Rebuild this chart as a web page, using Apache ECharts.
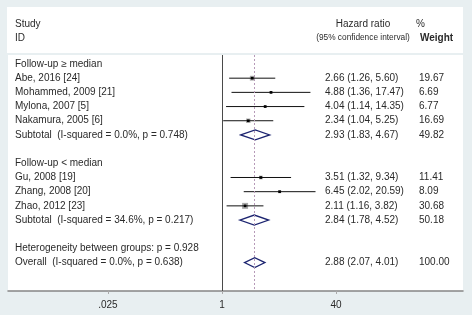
<!DOCTYPE html>
<html>
<head>
<meta charset="utf-8">
<script src="https://cdn.jsdelivr.net/npm/echarts@6/dist/echarts.min.js"></script>
<style>html,body{margin:0;padding:0;background:#e8eff1;}#c{width:472px;height:315px;}</style>
</head>
<body>
<div id="c"></div>
<script>
// ---- data ----
const rowLabels = [
  "Follow-up \u2265 median",
  "Abe, 2016 [24]",
  "Mohammed, 2009 [21]",
  "Mylona, 2007 [5]",
  "Nakamura, 2005 [6]",
  "Subtotal  (I-squared = 0.0%, p = 0.748)",
  "",
  "Follow-up < median",
  "Gu, 2008 [19]",
  "Zhang, 2008 [20]",
  "Zhao, 2012 [23]",
  "Subtotal  (I-squared = 34.6%, p = 0.217)",
  "",
  "Heterogeneity between groups: p = 0.928",
  "Overall  (I-squared = 0.0%, p = 0.638)"
];
const rowKind = ["head","study","study","study","study","pooled","blank","head","study","study","study","pooled","blank","note","pooled"];
const hr      = [null, 2.66, 4.88, 4.04, 2.34, 2.93, null, null, 3.51, 6.45, 2.11, 2.84, null, null, 2.88];
const ciLow   = [null, 1.26, 1.36, 1.14, 1.04, 1.83, null, null, 1.32, 2.02, 1.16, 1.78, null, null, 2.07];
const ciHigh  = [null, 5.60, 17.47, 14.35, 5.25, 4.67, null, null, 9.34, 20.59, 3.82, 4.52, null, null, 4.01];
const weights = [null, 19.67, 6.69, 6.77, 16.69, 49.82, null, null, 11.41, 8.09, 30.68, 50.18, null, null, 100.00];
const axisTickValues = [0.025, 1, 40];
const axisTickText = [".025", "1", "40"];
const overallIndex = 14;

// ---- chart ----
const FONT = '"Liberation Sans", Arial, sans-serif';
const TXT = '#2a2a2a';
const chart = echarts.init(document.getElementById('c'), null, {renderer: 'canvas'});

function fmt(v) { return v.toFixed(2); }

const option = {
  backgroundColor: '#e8eff1',
  animation: false,
  grid: {left: 8, right: 9, top: 55, bottom: 24, show: true, backgroundColor: '#ffffff', borderWidth: 0},
  xAxis: {
    type: 'log', logBase: 10, min: 0.000987, max: 2426,
    splitLine: {show: false},
    axisLine: {show: true, onZero: false, lineStyle: {color: '#858585', width: 1.5}},
    axisTick: {show: true, length: 3, customValues: axisTickValues, lineStyle: {color: '#aaaaaa'}},
    axisLabel: {
      show: true, customValues: axisTickValues, margin: 9,
      color: TXT, fontSize: 10, fontFamily: FONT,
      formatter: function (v) {
        for (let k = 0; k < axisTickValues.length; k++) {
          if (Math.abs(Math.log10(v) - Math.log10(axisTickValues[k])) < 1e-6) return axisTickText[k];
        }
        return '';
      }
    }
  },
  yAxis: {type: 'value', inverse: true, min: -0.634, max: 16, show: false},
  graphic: [
    {type: 'rect', z: -1, shape: {x: 7, y: 7, width: 456, height: 46}, style: {fill: '#ffffff'}},
    {type: 'text', z: 10, style: {x: 15, y: 24, text: 'Study', font: '10px ' + FONT, fill: TXT, verticalAlign: 'middle'}},
    {type: 'text', z: 10, style: {x: 15, y: 38, text: 'ID', font: '10px ' + FONT, fill: TXT, verticalAlign: 'middle'}},
    {type: 'text', z: 10, style: {x: 363, y: 24, text: 'Hazard ratio', font: '10px ' + FONT, fill: TXT, align: 'center', verticalAlign: 'middle'}},
    {type: 'text', z: 10, style: {x: 363, y: 38, text: '(95% confidence interval)', font: '8.3px ' + FONT, fill: TXT, align: 'center', verticalAlign: 'middle'}},
    {type: 'text', z: 10, style: {x: 416, y: 24, text: '%', font: '10px ' + FONT, fill: TXT, verticalAlign: 'middle'}},
    {type: 'text', z: 10, style: {x: 420, y: 38, text: 'Weight', font: 'bold 10px ' + FONT, fill: TXT, verticalAlign: 'middle'}}
  ],
  series: [
    {
      type: 'line', data: [], z: 1, silent: true,
      markLine: {
        silent: true, symbol: 'none', label: {show: false},
        data: [
          {xAxis: 1, lineStyle: {color: '#4a4a4a', width: 1, type: 'solid'}},
          {xAxis: hr[overallIndex], lineStyle: {color: '#b69ab8', width: 1, type: [2, 2]}}
        ]
      }
    },
    {
      type: 'custom', z: 3, clip: false,
      data: rowLabels.map(function (_, i) { return [hr[i] == null ? 1 : hr[i], i]; }),
      encode: {x: 0, y: 1},
      renderItem: function (params, api) {
        const i = params.dataIndex;
        const y = api.coord([1, i])[1];
        const children = [];
        children.push({type: 'text', style: {x: 15, y: y, text: rowLabels[i], font: '10px ' + FONT, fill: TXT, verticalAlign: 'middle'}});
        if (hr[i] != null) {
          children.push({type: 'text', style: {x: 325, y: y, text: fmt(hr[i]) + ' (' + fmt(ciLow[i]) + ', ' + fmt(ciHigh[i]) + ')', font: '10px ' + FONT, fill: TXT, verticalAlign: 'middle'}});
          children.push({type: 'text', style: {x: 419, y: y, text: fmt(weights[i]), font: '10px ' + FONT, fill: TXT, verticalAlign: 'middle'}});
          const xl = api.coord([ciLow[i], i])[0];
          const xh = api.coord([ciHigh[i], i])[0];
          const xc = api.coord([hr[i], i])[0];
          if (rowKind[i] === 'study') {
            const s = 1.08 * Math.sqrt(weights[i]);
            children.push({type: 'rect', shape: {x: xc - s / 2, y: y - s / 2, width: s, height: s}, style: {fill: '#a8a8a8'}});
            children.push({type: 'line', shape: {x1: xl, y1: y, x2: xh, y2: y}, style: {stroke: '#111111', lineWidth: 1}});
            children.push({type: 'rect', shape: {x: xc - 1.3, y: y - 1.3, width: 2.6, height: 2.6}, style: {fill: '#000000'}});
          } else {
            children.push({type: 'polygon', shape: {points: [[xl, y], [xc, y - 5], [xh, y], [xc, y + 5]]},
              style: {fill: '#ffffff', stroke: '#1c2470', lineWidth: 1.3}});
          }
        }
        return {type: 'group', children: children};
      }
    }
  ]
};
chart.setOption(option);
</script>
</body>
</html>
